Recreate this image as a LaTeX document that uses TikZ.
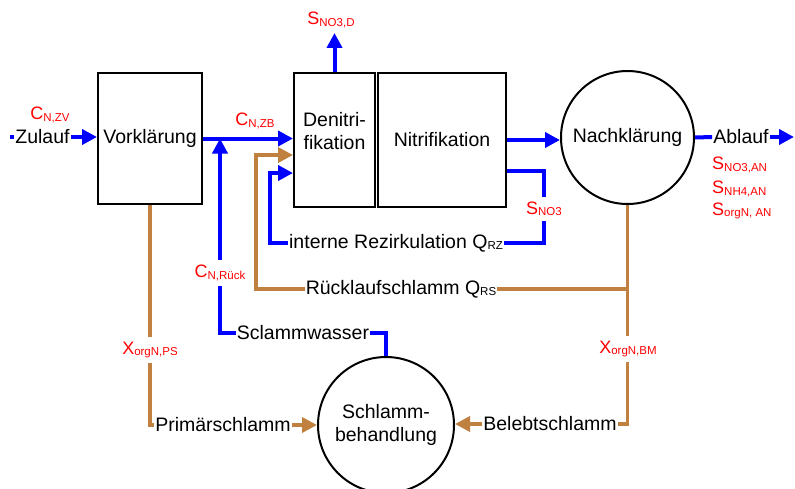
\documentclass[tikz,border=0pt]{standalone}
\usepackage{fontspec}
\setmainfont{Liberation Sans}
\usepackage{tikz}
\usetikzlibrary{arrows.meta, positioning, calc}
\definecolor{cblue}{RGB}{0, 0, 255}
\definecolor{cbrown}{RGB}{192, 128, 64}
\definecolor{cred}{RGB}{255, 0, 0}
\newcommand{\lbsub}[2]{#1\raisebox{-1.5pt}{\fontsize{11.5}{12}\selectfont #2}}
\tikzset{
  box/.style={draw, line width=2pt, inner sep=0pt},
  txt/.style={inner sep=1pt},
  lbl/.style={text=cred, inner xsep=1pt, inner ysep=5pt, font=\fontsize{18}{20}\selectfont},
  bline/.style={cblue, line width=4pt},
  rline/.style={cbrown, line width=3.5pt},
  arr/.style={-{Triangle[length=15pt, width=15pt]}},
}
\begin{document}
\begin{tikzpicture}[x=1pt, y=-1pt, font=\fontsize{19.5}{23.5}\selectfont]
  \useasboundingbox (0,0) rectangle (795,488);
  % Becken und Klaerer
  \node[box, minimum width=104, minimum height=131] (vork) at (150,138.5) {Vorklärung};
  \node[box, minimum width=81, minimum height=134] (deni) at (334.5,140) {};
  \node[align=center] (denitxt) at (334.5,131) {Denitri-\\fikation};
  \node[box, minimum width=128, minimum height=134] (nitri) at (442,140) {Nitrifikation};
  \node[box, circle, minimum size=133] (nach) at (627.5,137.5) {Nachklärung};
  \node[box, circle, minimum size=136, align=center] (schlamm) at (386,425) {Schlamm-\\behandlung};

  \node[txt] (zulauf) at (42.5,137) {Zulauf};
  \node[txt] (ablauf) at (741,137) {Ablauf};
  \node[txt] (primaer) at (223,425) {Primärschlamm};
  \node[txt] (beleb) at (550,424) {Belebtschlamm};
  \node[txt] (rezi) at (396,243) {interne Rezirkulation \lbsub{Q}{RZ}};
  \node[txt] (rueck) at (401,289) {Rücklaufschlamm \lbsub{Q}{RS}};
  \node[txt] (wasser) at (303,333) {Sclammwasser};

  \node[lbl] (cnzv) at (50,115) {\lbsub{C}{N,ZV}};
  \node[lbl] (cnzb) at (255,121) {\lbsub{C}{N,ZB}};
  \node[lbl] (sno3d) at (331,20) {\lbsub{S}{NO3,D}};
  \node[lbl] (sno3) at (544,209) {\lbsub{S}{NO3}};
  \node[lbl] (cnrueck) at (220,273) {\lbsub{C}{N,Rück}};
  \node[lbl] (xps) at (150,350) {\lbsub{X}{orgN,PS}};
  \node[lbl] (xbm) at (628,349) {\lbsub{X}{orgN,BM}};
  \node[lbl, anchor=west] (sno3an) at (711,165) {\lbsub{S}{NO3,AN}};
  \node[lbl, anchor=west] (snh4an) at (711,189) {\lbsub{S}{NH4,AN}};
  \node[lbl, anchor=west] (sorgnan) at (711,211) {\lbsub{S}{orgN, AN}};

  \coordinate (in) at (10,137);
  \coordinate (out) at (794,137);
  \coordinate (rzout) at (nitri.east |- 0,171);
  \coordinate (rzin) at (270,173);
  \coordinate (rsin) at (256,155);
  \coordinate (rsjoin) at (nach.south |- rueck.east);

  % Wasserweg
  \draw[bline] (in) -- (zulauf.west);
  \draw[bline, arr] (zulauf.east) -- (vork.west |- zulauf.east);
  \draw[bline, arr] (vork.east) -- (vork.east -| deni.west);
  \draw[bline, arr] (deni.north) -- (deni.north |- sno3d.south);
  \draw[bline, arr] (nitri.east) -- (nitri.east -| nach.west);
  \draw[bline] (nach.east) -- (ablauf.west);
  \draw[bline, arr] (ablauf.east) -- (out);
  \draw[bline] (rzout) -| (sno3.north);
  \draw[bline] (sno3.south) |- (rezi.east);
  \draw[bline, arr] (rezi.west) -| (rzin) -- (rzin -| deni.west);
  \draw[bline] (wasser.east) -| (schlamm.north);
  \draw[bline] (wasser.west) -| (cnrueck.south);
  \draw[bline, arr] (cnrueck.north) -- (cnrueck.north |- vork.east);

  % Schlammweg
  \draw[rline, arr] (rueck.west) -| (rsin) -- (rsin -| deni.west);
  \draw[rline] (rsjoin) -- (rueck.east);
  \draw[rline] (nach.south) -- (nach.south |- xbm.north);
  \draw[rline] (nach.south |- xbm.south) |- (beleb.east);
  \draw[rline, arr] (beleb.west) -- (beleb.west -| schlamm.east);
  \draw[rline] (vork.south) -- (vork.south |- xps.north);
  \draw[rline] (vork.south |- xps.south) |- (primaer.west);
  \draw[rline, arr] (primaer.east) -- (primaer.east -| schlamm.west);
\end{tikzpicture}
\end{document}
